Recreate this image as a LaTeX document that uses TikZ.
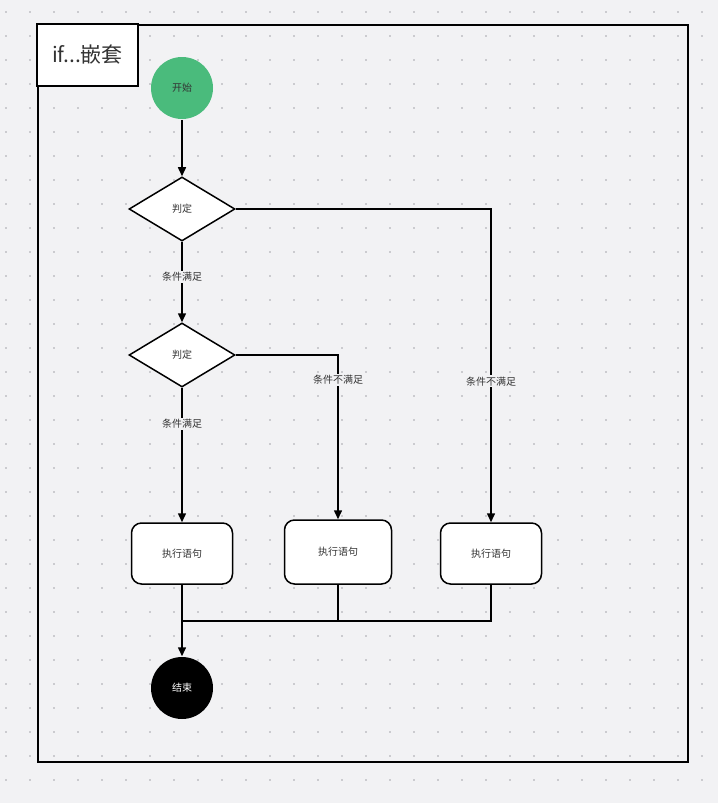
\documentclass[tikz,border=0pt]{standalone}
\usepackage{fontspec}
\setmainfont{Noto Sans CJK SC}
\usetikzlibrary{shapes.geometric,arrows.meta}
\definecolor{pagebg}{HTML}{F2F2F4}
\definecolor{griddot}{HTML}{CBCBCF}
\definecolor{startgreen}{HTML}{4ABB7C}
\definecolor{txtgray}{HTML}{333333}
\begin{document}
\begin{tikzpicture}[x=1pt,y=-1pt,
  line width=1.5pt,
  arr/.style={-{Triangle[length=9pt,width=8pt]}},
  terminal/.style={circle, minimum size=62pt, inner sep=0pt, font=\fontsize{10}{12}\selectfont},
  judge/.style={diamond, draw, fill=white, minimum width=106pt, minimum height=64pt, inner sep=0pt, text=txtgray, font=\fontsize{10}{12}\selectfont},
  exec/.style={draw, fill=white, rounded corners=10pt, minimum width=101pt, minimum height=61pt, text=txtgray, font=\fontsize{10}{12}\selectfont},
  lbl/.style={fill=pagebg, inner sep=1.5pt, text=txtgray, font=\fontsize{10}{12}\selectfont}]
\useasboundingbox[fill=pagebg] (0,0) rectangle (718,803);
\foreach \x in {6,30,...,718}
  \foreach \y in {12,36,...,803}
    \fill[griddot] (\x-1,\y-1) rectangle (\x+1,\y+1);
% frame and title
\draw[line width=1.3pt] (38,25) rectangle (688,762);
\node[draw, line width=1.3pt, fill=white, minimum width=101pt, minimum height=62pt, text=txtgray, font=\fontsize{21}{24}\selectfont] (title) at (87.5,55) {if...嵌套};
% nodes
\node[terminal, fill=startgreen, text=txtgray] (start) at (182,88) {开始};
\node[judge] (d1) at (182,209) {判定};
\node[judge] (d2) at (182,355) {判定};
\node[exec] (e1) at (182,553.5) {执行语句};
\node[exec, minimum width=107pt, minimum height=64pt] (e2) at (338,552) {执行语句};
\node[exec] (e3) at (491,553.5) {执行语句};
\node[terminal, fill=black, text=white] (stop) at (182,688) {结束};
\coordinate (join) at (182,621);
% connectors
\draw[arr] (start) -- (d1);
\draw[arr] (d1) -- node[lbl, pos=0.44] {条件满足} (d2);
\draw[arr] (d2) -- node[lbl, pos=0.27] {条件满足} (e1);
\draw[arr] (d2.east) -| node[lbl, pos=0.575] {条件不满足} (e2);
\draw[arr] (d1.east) -| node[lbl, pos=0.775] {条件不满足} (e3);
\draw (e1) -- (join);
\draw (e2.south) |- (join);
\draw (e3.south) |- (join);
\draw[arr] (join) -- (stop);
\end{tikzpicture}
\end{document}
